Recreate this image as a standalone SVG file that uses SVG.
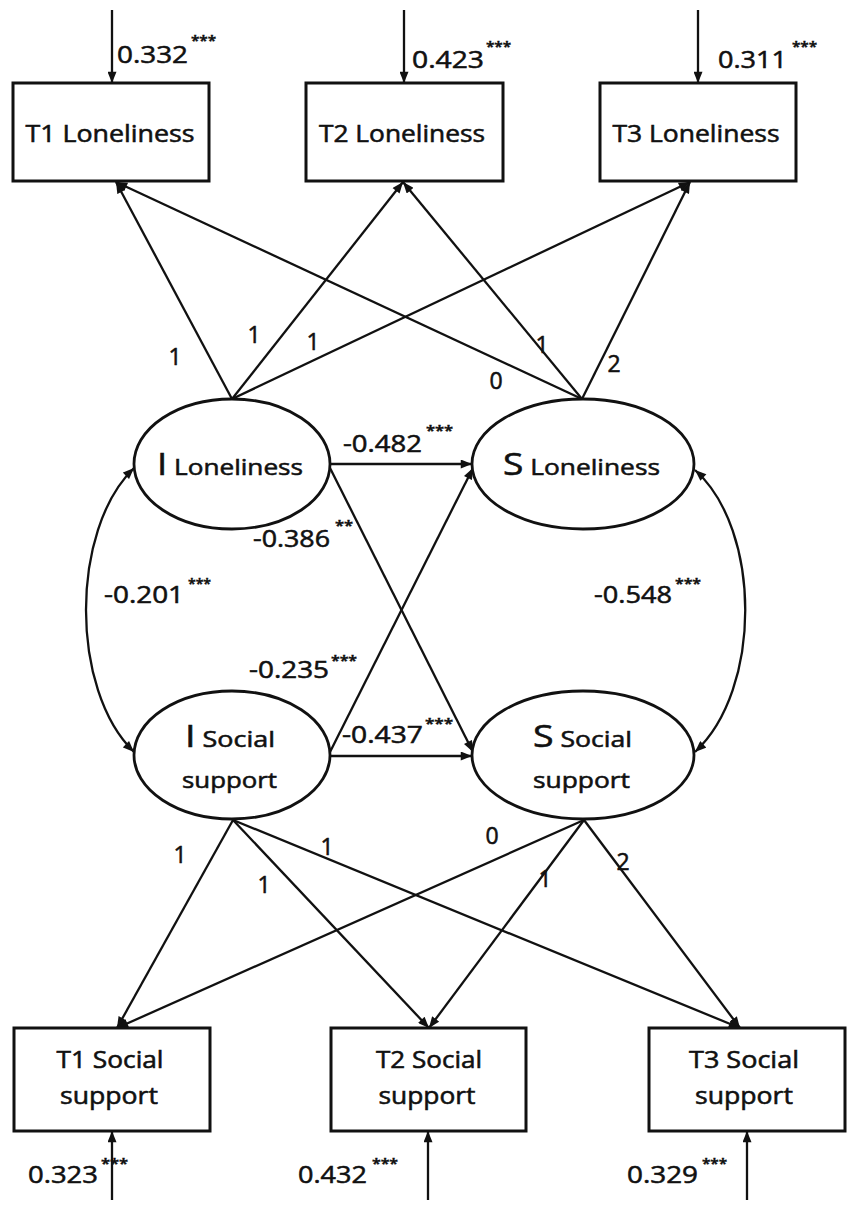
<svg xmlns="http://www.w3.org/2000/svg" width="851" height="1214" viewBox="0 0 851 1214">
<style>
  .box { fill: #fff; stroke: #111; stroke-width: 3; }
  .ell { fill: #fff; stroke: #111; stroke-width: 2.8; }
  .ln { fill: none; stroke: #111; stroke-width: 2.3; }
  .arr { marker-end: url(#ah); }
  .dbl { marker-start: url(#ah); marker-end: url(#ah); }
  text { font-family: "Open Sans", "Liberation Sans", sans-serif; fill: #111; font-weight: 400; stroke: #111; stroke-width: 0.55; }
  .bl { font-size: 23px; text-anchor: middle; }
  .el { font-size: 22px; }
  .big { font-size: 31px; }
  .num { font-size: 24px; }
  .ld { font-size: 23px; text-anchor: middle; }
  .st { font-size: 15px; font-weight: 700; stroke-width: 0.3; }
</style>
<defs>
  <marker id="ah" viewBox="0 0 10 8" refX="10" refY="4" markerWidth="12" markerHeight="9" markerUnits="userSpaceOnUse" orient="auto-start-reverse">
    <path d="M0,0 L10,4 L0,8 z" fill="#111"/>
  </marker>
</defs>
<rect width="851" height="1214" fill="#fff"/>

<g id="connectors">
  <line class="ln arr" x1="112" y1="10" x2="112" y2="83"/>
  <line class="ln arr" x1="404" y1="10" x2="404" y2="83"/>
  <line class="ln arr" x1="698" y1="10" x2="698" y2="83"/>
  <line class="ln arr" x1="232" y1="399" x2="116" y2="182"/>
  <line class="ln arr" x1="232" y1="399" x2="403" y2="182"/>
  <line class="ln arr" x1="232" y1="399" x2="690" y2="182"/>
  <line class="ln arr" x1="582" y1="399" x2="116" y2="182"/>
  <line class="ln arr" x1="582" y1="399" x2="403" y2="182"/>
  <line class="ln arr" x1="582" y1="399" x2="690" y2="182"/>
  <line class="ln arr" x1="330" y1="464" x2="472" y2="464"/>
  <line class="ln arr" x1="330" y1="756" x2="472" y2="756"/>
  <line class="ln arr" x1="330" y1="468" x2="473" y2="752"/>
  <line class="ln arr" x1="330" y1="752" x2="473" y2="468"/>
  <path class="ln dbl" d="M134 468 C70 530 70 690 134 752"/>
  <path class="ln dbl" d="M695 470 C762 530 762 690 695 752"/>
  <line class="ln arr" x1="233" y1="820" x2="117" y2="1028"/>
  <line class="ln arr" x1="233" y1="820" x2="429" y2="1028"/>
  <line class="ln arr" x1="233" y1="820" x2="740" y2="1028"/>
  <line class="ln arr" x1="584" y1="820" x2="117" y2="1028"/>
  <line class="ln arr" x1="584" y1="820" x2="429" y2="1028"/>
  <line class="ln arr" x1="584" y1="820" x2="740" y2="1028"/>
  <line class="ln arr" x1="112" y1="1200" x2="112" y2="1131"/>
  <line class="ln arr" x1="428" y1="1200" x2="428" y2="1131"/>
  <line class="ln arr" x1="747" y1="1200" x2="747" y2="1131"/>
</g>

<g id="T1_Loneliness">
  <rect class="box" x="13" y="83" width="196" height="98"/>
  <text class="bl" x="110" y="142" textLength="169" lengthAdjust="spacingAndGlyphs">T1 Loneliness</text>
</g>
<g id="T2_Loneliness">
  <rect class="box" x="306" y="83" width="197" height="98"/>
  <text class="bl" x="402" y="142" textLength="166" lengthAdjust="spacingAndGlyphs">T2 Loneliness</text>
</g>
<g id="T3_Loneliness">
  <rect class="box" x="600" y="83" width="196" height="98"/>
  <text class="bl" x="696" y="142" textLength="167" lengthAdjust="spacingAndGlyphs">T3 Loneliness</text>
</g>

<g id="I_Loneliness">
  <ellipse class="ell" cx="232" cy="464" rx="98" ry="65"/>
  <text class="el" x="157" y="475" textLength="146" lengthAdjust="spacingAndGlyphs"><tspan class="big">I</tspan> Loneliness</text>
</g>
<g id="S_Loneliness">
  <ellipse class="ell" cx="583" cy="464" rx="111" ry="65"/>
  <text class="el" x="503" y="475" textLength="157" lengthAdjust="spacingAndGlyphs"><tspan class="big">S</tspan> Loneliness</text>
</g>
<g id="I_Social_support">
  <ellipse class="ell" cx="232" cy="755" rx="98" ry="64"/>
  <text class="el" x="185" y="747" textLength="90" lengthAdjust="spacingAndGlyphs"><tspan class="big">I</tspan> Social</text>
  <text class="el" x="182" y="788" textLength="95" lengthAdjust="spacingAndGlyphs">support</text>
</g>
<g id="S_Social_support">
  <ellipse class="ell" cx="583" cy="755" rx="111" ry="64"/>
  <text class="el" x="533" y="747" textLength="99" lengthAdjust="spacingAndGlyphs"><tspan class="big">S</tspan> Social</text>
  <text class="el" x="533" y="788" textLength="97" lengthAdjust="spacingAndGlyphs">support</text>
</g>

<g id="T1_Social_support">
  <rect class="box" x="14" y="1028" width="196" height="103"/>
  <text class="bl" x="110" y="1068" textLength="107" lengthAdjust="spacingAndGlyphs">T1 Social</text>
  <text class="bl" x="109" y="1104" textLength="98" lengthAdjust="spacingAndGlyphs">support</text>
</g>
<g id="T2_Social_support">
  <rect class="box" x="331" y="1028" width="195" height="103"/>
  <text class="bl" x="429" y="1068" textLength="106" lengthAdjust="spacingAndGlyphs">T2 Social</text>
  <text class="bl" x="427" y="1104" textLength="97" lengthAdjust="spacingAndGlyphs">support</text>
</g>
<g id="T3_Social_support">
  <rect class="box" x="649" y="1028" width="196" height="103"/>
  <text class="bl" x="744" y="1068" textLength="110" lengthAdjust="spacingAndGlyphs">T3 Social</text>
  <text class="bl" x="744" y="1104" textLength="98" lengthAdjust="spacingAndGlyphs">support</text>
</g>

<g id="labels">
  <text class="num" x="117" y="63" textLength="71" lengthAdjust="spacingAndGlyphs">0.332</text>
  <text class="st" x="191" y="46" textLength="25" lengthAdjust="spacingAndGlyphs">***</text>
  <text class="num" x="412" y="68" textLength="72" lengthAdjust="spacingAndGlyphs">0.423</text>
  <text class="st" x="486" y="52" textLength="25" lengthAdjust="spacingAndGlyphs">***</text>
  <text class="num" x="718" y="68" textLength="69" lengthAdjust="spacingAndGlyphs">0.311</text>
  <text class="st" x="792" y="52" textLength="25" lengthAdjust="spacingAndGlyphs">***</text>
  <text class="ld" x="175" y="365">1</text>
  <text class="ld" x="254" y="343">1</text>
  <text class="ld" x="313" y="350">1</text>
  <text class="ld" x="496" y="389">0</text>
  <text class="ld" x="542" y="353">1</text>
  <text class="ld" x="614" y="372">2</text>
  <text class="num" x="343" y="452" textLength="79" lengthAdjust="spacingAndGlyphs">-0.482</text>
  <text class="st" x="426" y="436" textLength="27" lengthAdjust="spacingAndGlyphs">***</text>
  <text class="num" x="253" y="547" textLength="77" lengthAdjust="spacingAndGlyphs">-0.386</text>
  <text class="st" x="335" y="531" textLength="18" lengthAdjust="spacingAndGlyphs">**</text>
  <text class="num" x="104" y="603" textLength="80" lengthAdjust="spacingAndGlyphs">-0.201</text>
  <text class="st" x="188" y="589" textLength="23" lengthAdjust="spacingAndGlyphs">***</text>
  <text class="num" x="594" y="603" textLength="78" lengthAdjust="spacingAndGlyphs">-0.548</text>
  <text class="st" x="675" y="589" textLength="26" lengthAdjust="spacingAndGlyphs">***</text>
  <text class="num" x="249" y="678" textLength="80" lengthAdjust="spacingAndGlyphs">-0.235</text>
  <text class="st" x="331" y="666" textLength="26" lengthAdjust="spacingAndGlyphs">***</text>
  <text class="num" x="342" y="743" textLength="81" lengthAdjust="spacingAndGlyphs">-0.437</text>
  <text class="st" x="425" y="729" textLength="28" lengthAdjust="spacingAndGlyphs">***</text>
  <text class="ld" x="180" y="863">1</text>
  <text class="ld" x="264" y="893">1</text>
  <text class="ld" x="327" y="855">1</text>
  <text class="ld" x="492" y="844">0</text>
  <text class="ld" x="545" y="887">1</text>
  <text class="ld" x="623" y="870">2</text>
  <text class="num" x="28" y="1183" textLength="70" lengthAdjust="spacingAndGlyphs">0.323</text>
  <text class="st" x="101" y="1169" textLength="27" lengthAdjust="spacingAndGlyphs">***</text>
  <text class="num" x="298" y="1183" textLength="69" lengthAdjust="spacingAndGlyphs">0.432</text>
  <text class="st" x="372" y="1169" textLength="26" lengthAdjust="spacingAndGlyphs">***</text>
  <text class="num" x="627" y="1183" textLength="71" lengthAdjust="spacingAndGlyphs">0.329</text>
  <text class="st" x="702" y="1169" textLength="25" lengthAdjust="spacingAndGlyphs">***</text>
</g>
</svg>
